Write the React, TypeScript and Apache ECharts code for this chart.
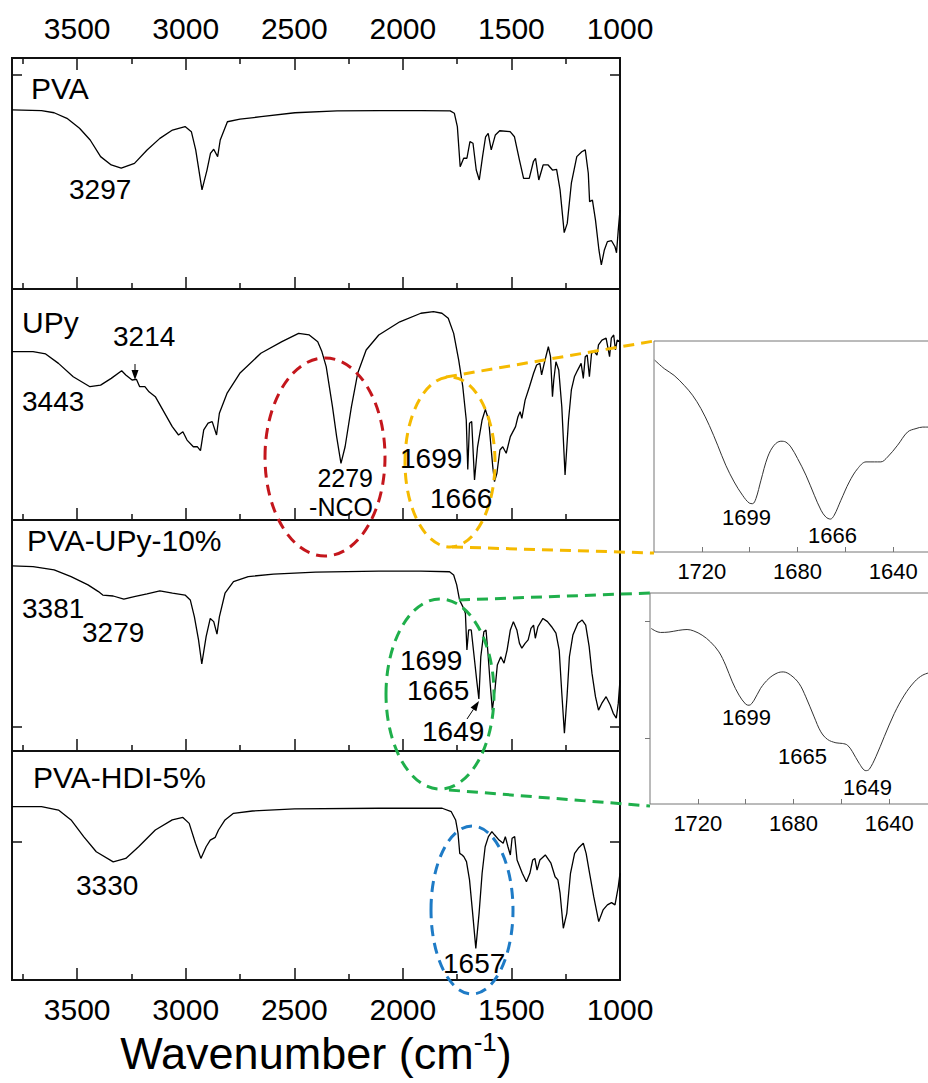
import React, { useEffect, useRef } from "react";
import * as echarts from "echarts";

// ---------- data (wavenumber cm-1, transmittance a.u.) ----------
const PVA: [number, number][] = [
  [3800, 77.5], [3664, 77.2], [3606, 76.3], [3547, 73.9], [3489, 69.6], [3440, 64.5], [3392, 57.3], [3343, 53.7],
  [3297, 52.3], [3236, 54.4], [3178, 60.2], [3119, 65.2], [3061, 68.8], [3003, 70.3], [2974, 68.1], [2954, 60.2],
  [2925, 42.9], [2902, 51.5], [2886, 58.7], [2871, 60.5], [2853, 57.3], [2841, 64.5], [2808, 72.4], [2750, 73.5],
  [2653, 74.6], [2497, 76.3], [2303, 77.1], [2108, 77.2], [1914, 77.2], [1782, 77.1], [1763, 76.1], [1749, 70.3],
  [1736, 52.9], [1720, 56.6], [1705, 56.6], [1691, 63.8], [1677, 63.1], [1662, 51.5], [1648, 47.2], [1633, 57.3],
  [1619, 65.9], [1607, 67.4], [1593, 60.2], [1574, 66.7], [1554, 68.5], [1506, 68.1], [1486, 65.9], [1463, 55.8],
  [1444, 47.9], [1418, 47.9], [1399, 55.1], [1389, 56.6], [1374, 47.2], [1354, 53.7], [1331, 53.7], [1311, 51.5],
  [1292, 51.8], [1276, 42.9], [1257, 24.4], [1243, 28.4], [1224, 45.8], [1199, 57.3], [1176, 59.4], [1160, 60.2],
  [1146, 50.1], [1140, 37.8], [1127, 38.5], [1113, 29.9], [1097, 16.9], [1086, 10.4], [1072, 16.9], [1058, 20.5],
  [1039, 20.9], [1023, 18.3], [1016, 15.7], [1008, 25.5], [1000, 34.2],
];
const UPY: [number, number][] = [
  [3800, 72.9], [3703, 72.9], [3645, 71.9], [3586, 67.8], [3518, 62.0], [3441, 57.7], [3392, 58.4], [3343, 61.3],
  [3295, 64.6], [3276, 62.8], [3247, 60.6], [3227, 60.9], [3212, 57.7], [3188, 57.7], [3169, 55.5], [3140, 53.4],
  [3101, 46.9], [3062, 40.4], [3033, 36.8], [3013, 38.2], [2994, 34.6], [2965, 31.7], [2946, 31.7], [2932, 30.0],
  [2917, 39.0], [2897, 41.9], [2878, 42.6], [2858, 36.8], [2845, 46.2], [2810, 54.8], [2751, 63.5], [2654, 72.2],
  [2557, 77.2], [2480, 80.8], [2431, 80.1], [2392, 77.2], [2373, 72.9], [2353, 66.4], [2324, 49.0], [2305, 36.1],
  [2285, 24.5], [2266, 31.7], [2237, 49.0], [2208, 63.5], [2169, 73.6], [2111, 80.1], [2014, 85.8], [1917, 89.5],
  [1859, 90.2], [1820, 89.5], [1791, 87.3], [1766, 80.8], [1743, 69.3], [1724, 57.7], [1708, 43.3], [1701, 21.9],
  [1693, 41.9], [1683, 42.6], [1670, 17.3], [1656, 31.7], [1635, 43.3], [1620, 47.9], [1605, 43.3], [1586, 23.1],
  [1578, 16.6], [1567, 20.2], [1553, 30.3], [1540, 31.7], [1524, 28.9], [1505, 36.1], [1481, 40.4], [1470, 44.7],
  [1460, 46.9], [1452, 44.0], [1437, 51.9], [1417, 57.7], [1398, 63.5], [1384, 67.1], [1369, 67.8], [1361, 62.8],
  [1349, 67.8], [1330, 75.0], [1320, 70.7], [1311, 53.4], [1305, 60.6], [1295, 68.5], [1282, 64.9], [1268, 49.0],
  [1253, 19.5], [1237, 43.3], [1224, 56.3], [1210, 62.0], [1195, 64.9], [1179, 67.8], [1169, 61.3], [1160, 70.7],
  [1151, 71.4], [1141, 62.0], [1131, 72.2], [1118, 72.9], [1106, 71.4], [1099, 75.8], [1083, 77.9], [1064, 78.7],
  [1048, 70.7], [1040, 78.7], [1029, 80.1], [1021, 73.6], [1013, 77.9], [1000, 77.2],
];
const PVA_UPY_10: [number, number][] = [
  [3800, 80.1], [3703, 79.8], [3606, 78.4], [3528, 75.5], [3450, 71.9], [3402, 69.0], [3382, 67.5], [3334, 67.1],
  [3285, 65.7], [3237, 66.8], [3178, 68.0], [3119, 69.3], [3061, 68.3], [3003, 67.5], [2979, 65.4], [2960, 58.1],
  [2941, 48.1], [2926, 37.7], [2906, 49.5], [2887, 57.4], [2871, 56.0], [2856, 50.6], [2845, 58.1], [2819, 68.3],
  [2780, 73.3], [2712, 75.5], [2596, 76.6], [2402, 77.4], [2111, 77.9], [1917, 77.9], [1785, 77.6], [1766, 76.2],
  [1752, 71.9], [1739, 65.4], [1724, 62.5], [1712, 59.6], [1705, 43.7], [1697, 52.4], [1685, 52.4], [1670, 39.4],
  [1660, 30.7], [1650, 22.5], [1641, 40.8], [1627, 51.6], [1617, 52.4], [1608, 42.3], [1598, 29.3], [1588, 17.7],
  [1576, 26.4], [1565, 37.2], [1549, 40.8], [1534, 38.0], [1520, 43.7], [1505, 52.4], [1491, 56.0], [1475, 52.4],
  [1463, 46.6], [1452, 44.5], [1437, 46.6], [1423, 48.1], [1410, 53.1], [1398, 54.5], [1390, 48.8], [1378, 53.8],
  [1355, 57.4], [1334, 56.0], [1315, 53.8], [1295, 51.0], [1280, 43.7], [1268, 25.0], [1256, 7.7], [1244, 23.5],
  [1233, 40.8], [1217, 50.2], [1194, 55.3], [1174, 56.7], [1158, 54.5], [1142, 45.2], [1129, 33.6], [1113, 23.5],
  [1099, 17.7], [1084, 20.6], [1064, 23.5], [1045, 19.9], [1031, 16.3], [1017, 14.2], [1008, 20.6], [1000, 30.7],
];
const PVA_HDI_5: [number, number][] = [
  [3800, 75.7], [3664, 75.7], [3586, 74.2], [3528, 69.9], [3470, 62.6], [3412, 56.0], [3334, 51.6], [3276, 53.1],
  [3217, 58.2], [3140, 65.5], [3062, 69.9], [3013, 71.0], [2984, 68.4], [2955, 59.7], [2930, 53.1], [2906, 58.2],
  [2887, 61.1], [2864, 62.3], [2849, 65.5], [2819, 69.9], [2780, 72.8], [2693, 73.8], [2499, 74.7], [2111, 75.0],
  [1819, 75.0], [1777, 73.5], [1757, 69.9], [1746, 64.1], [1738, 55.3], [1727, 54.6], [1719, 53.8], [1707, 51.7],
  [1693, 43.7], [1680, 30.6], [1664, 13.8], [1649, 29.1], [1635, 46.6], [1621, 58.2], [1606, 62.6], [1590, 64.8],
  [1577, 63.3], [1557, 61.1], [1538, 59.7], [1528, 62.6], [1516, 58.2], [1505, 54.6], [1497, 61.9], [1485, 62.6],
  [1474, 52.4], [1450, 46.6], [1431, 42.9], [1415, 46.6], [1402, 52.4], [1392, 53.1], [1382, 48.0], [1369, 52.4],
  [1344, 54.6], [1318, 51.0], [1299, 45.1], [1286, 43.7], [1276, 37.9], [1261, 22.6], [1245, 29.1], [1228, 46.6],
  [1209, 55.3], [1189, 57.9], [1169, 59.7], [1156, 55.3], [1140, 46.6], [1121, 36.4], [1098, 25.5], [1078, 30.6],
  [1058, 32.8], [1039, 33.8], [1023, 32.8], [1008, 40.7], [1000, 46.6],
];
const INSET_UPY: [number, number][] = [
  [1739.7, 90.9], [1735.7, 86.9], [1731.6, 83.7], [1727.4, 79.0], [1723.9, 74.3], [1720.4, 68.0], [1716.9, 60.0],
  [1713.4, 50.6], [1710, 41.1], [1706.5, 33.2], [1703, 26.9], [1700.2, 23.2], [1698.8, 22.9], [1697.4, 25.3],
  [1695.3, 34.0], [1692.5, 45.0], [1689.8, 50.6], [1687, 52.5], [1684.9, 52.1], [1682.8, 49.8], [1680, 44.3],
  [1676.5, 36.4], [1673, 26.9], [1670.2, 19.8], [1668.2, 16.6], [1666.3, 15.6], [1664.7, 17.4], [1661.9, 24.5],
  [1658.4, 33.2], [1654.9, 39.5], [1651.4, 42.7], [1647.9, 42.7], [1645.2, 42.7], [1642.4, 45.0], [1638.2, 50.6],
  [1634, 56.9], [1630.5, 58.5], [1627.7, 59.2], [1624, 59.2],
];
const INSET_PVA_UPY: [number, number][] = [
  [1739.5, 83.2], [1737.7, 82.0], [1735.6, 81.3], [1732.1, 81.5], [1728, 82.3], [1724.5, 82.7], [1721.7, 82.0],
  [1718.2, 80.0], [1714.7, 76.8], [1711.2, 72.1], [1708.4, 65.8], [1705.6, 57.9], [1702.8, 51.6], [1700, 47.3],
  [1698.6, 46.8], [1696.5, 49.2], [1693.8, 54.8], [1690.3, 59.5], [1686.8, 62.1], [1684.3, 62.6], [1681.2, 61.1],
  [1677.7, 57.1], [1674.9, 50.8], [1671.4, 41.3], [1668.6, 34.2], [1665.8, 30.6], [1662.3, 29.0], [1659.6, 28.7],
  [1657.5, 27.9], [1655.4, 24.8], [1652.6, 19.3], [1649.8, 15.8], [1648.4, 16.4], [1645.6, 22.4], [1642.1, 31.9],
  [1637.9, 42.9], [1633.7, 51.6], [1629.5, 57.9], [1626, 61.1], [1622, 62.6],
];

const MAJOR_TICKS = [1000, 1500, 2000, 2500, 3000, 3500];
const MINOR_TICKS = [1250, 1750, 2250, 2750, 3250, 3750];
const INSET_TICKS = [1620, 1640, 1660, 1680, 1700, 1720];
const INSET_LABELS = [1640, 1680, 1720];
const PANEL_NAMES = ["PVA", "UPy", "PVA-UPy-10%", "PVA-HDI-5%"];
const PANEL_Y_TICKS = [[92.6], [], [10.5], [60.4]];
const INSET2_Y_TICKS = [31.2, 86.7];

const FONT = '"Liberation Sans", Arial, Helvetica, sans-serif';

export default function App() {
  const ref = useRef<HTMLDivElement>(null);
  useEffect(() => {
    if (!ref.current) return;
    const chart = echarts.init(ref.current, undefined, { renderer: "svg" });

    const panelData = [PVA, UPY, PVA_UPY_10, PVA_HDI_5];
    const tops = [58, 289, 520, 751];
    const heights = [231, 231, 231, 229];
    const grids: any[] = [];
    const xAxes: any[] = [];
    const yAxes: any[] = [];
    const series: any[] = [];
    const fmt = (v: number) => String(v);

    const mainX = (g: number, pos: string, ticks: number[], len: number, labels: boolean, margin: number) => ({
      type: "value", gridIndex: g, position: pos, min: 1000, max: 3800, inverse: true,
      axisLine: { show: false },
      axisTick: { show: true, inside: true, length: len, customValues: ticks, lineStyle: { color: "#111", width: 1.5 } },
      axisLabel: labels
        ? { show: true, customValues: MAJOR_TICKS, formatter: fmt, fontSize: 30, lineHeight: 30, fontFamily: FONT, color: "#000", margin }
        : { show: false },
      splitLine: { show: false },
    });
    const mainY = (g: number, pos: string, ticks: number[]) => ({
      type: "value", gridIndex: g, position: pos, min: 0, max: 100,
      axisLine: { show: false },
      axisTick: ticks.length
        ? { show: true, inside: true, length: 10, customValues: ticks, lineStyle: { color: "#111", width: 1.5 } }
        : { show: false },
      axisLabel: { show: false },
      splitLine: { show: false },
    });

    panelData.forEach((data, i) => {
      grids.push({
        left: 12, top: tops[i], width: 608, height: heights[i], show: true, borderColor: "#111", borderWidth: 2,
        outerBoundsMode: "none",
      });
      const xi = xAxes.length;
      xAxes.push(mainX(i, "bottom", MAJOR_TICKS, 12, i === 3, 14));
      xAxes.push(mainX(i, "bottom", MINOR_TICKS, 6, false, 14));
      if (i === 0) {
        xAxes.push(mainX(i, "top", MAJOR_TICKS, 12, true, 15));
        xAxes.push(mainX(i, "top", MINOR_TICKS, 6, false, 15));
      }
      const yi = yAxes.length;
      yAxes.push(mainY(i, "left", PANEL_Y_TICKS[i]));
      yAxes.push(mainY(i, "right", PANEL_Y_TICKS[i]));
      series.push({
        type: "line", name: PANEL_NAMES[i], xAxisIndex: xi, yAxisIndex: yi, data, showSymbol: false,
        lineStyle: { color: "#000", width: 1.3 }, z: 3,
      });
    });

    // insets (they run past the right edge of the page, as in the reference)
    const insets = [
      { data: INSET_UPY, left: 654, top: 341, yTicks: [] as number[] },
      { data: INSET_PVA_UPY, left: 650, top: 593, yTicks: INSET2_Y_TICKS },
    ];
    insets.forEach((ins) => {
      const g = grids.length;
      grids.push({
        left: ins.left, top: ins.top, width: 335, height: 211, show: true, borderColor: "#777", borderWidth: 1,
        outerBoundsMode: "none",
      });
      const xi = xAxes.length;
      xAxes.push({
        type: "value", gridIndex: g, position: "bottom", min: 1600, max: 1740, inverse: true,
        axisLine: { show: false },
        axisTick: { show: true, inside: true, length: 5, customValues: INSET_TICKS, lineStyle: { color: "#777", width: 1 } },
        axisLabel: { show: true, customValues: INSET_LABELS, formatter: fmt, fontSize: 22, lineHeight: 22, fontFamily: FONT, color: "#000", margin: 8 },
        splitLine: { show: false },
      });
      const yi = yAxes.length;
      yAxes.push({
        type: "value", gridIndex: g, position: "left", min: 0, max: 100,
        axisLine: { show: false },
        axisTick: ins.yTicks.length
          ? { show: true, inside: false, length: 5, customValues: ins.yTicks, lineStyle: { color: "#777", width: 1 } }
          : { show: false },
        axisLabel: { show: false },
        splitLine: { show: false },
      });
      series.push({
        type: "line", xAxisIndex: xi, yAxisIndex: yi, data: ins.data, showSymbol: false, smooth: 0.35,
        lineStyle: { color: "#333", width: 1 }, z: 3,
      });
    });

    const txt = (text: string, x: number, y: number, size: number, align = "left", lh?: number) => ({
      type: "text", x, y, z: 100,
      style: {
        text, fontSize: size, fontFamily: FONT, fill: "#000", textAlign: align, textVerticalAlign: "middle",
        ...(lh ? { lineHeight: lh } : {}),
      },
    });
    const dash = (color: string) => ({ fill: "none", stroke: color, lineWidth: 3, lineDash: [11, 7] });
    const ell = (cx: number, cy: number, rx: number, ry: number, color: string) => ({
      type: "ellipse", z: 90, shape: { cx, cy, rx, ry }, style: dash(color),
    });
    const dline = (x1: number, y1: number, x2: number, y2: number, color: string) => ({
      type: "line", z: 90, shape: { x1, y1, x2, y2 }, style: dash(color),
    });
    const arrow = (x1: number, y1: number, x2: number, y2: number) => {
      const dx = x2 - x1, dy = y2 - y1, L = Math.hypot(dx, dy);
      const ux = dx / L, uy = dy / L, hl = 10, hw = 3.5;
      const bx = x2 - ux * hl, by = y2 - uy * hl;
      return [
        { type: "line", z: 95, shape: { x1, y1, x2: bx, y2: by }, style: { stroke: "#000", lineWidth: 1 } },
        {
          type: "polygon", z: 95,
          shape: { points: [[x2, y2], [bx - uy * hw, by + ux * hw], [bx + uy * hw, by - ux * hw]] },
          style: { fill: "#000" },
        },
      ];
    };

    const RED = "#C4161C", YEL = "#F5BA00", GRN = "#1FAF4B", BLU = "#1E7BC6";
    const graphic: any[] = [
      txt(PANEL_NAMES[0], 31, 88, 30),
      txt(PANEL_NAMES[1], 22, 322, 30),
      txt(PANEL_NAMES[2], 27, 540, 30),
      txt(PANEL_NAMES[3], 33, 777, 30),
      txt("3297", 69, 189, 28),
      txt("3214", 113, 336, 28),
      txt("3443", 22, 401, 28),
      txt("2279", 373, 478, 25, "right"),
      txt("-NCO", 373, 507, 25, "right"),
      txt("1699", 400, 458, 28),
      txt("1666", 430, 498, 28),
      txt("3381", 22, 608, 28),
      txt("3279", 82, 632, 28),
      txt("1699", 400, 660, 28),
      txt("1665", 407, 690, 28),
      txt("1649", 422, 731, 28),
      txt("3330", 76, 885, 28),
      txt("1657", 443, 963, 28),
      txt("1699", 722, 517, 22),
      txt("1666", 808, 535, 22),
      txt("1699", 722, 717, 22),
      txt("1665", 778, 756, 22),
      txt("1649", 843, 787, 22),
      ...arrow(135, 364, 135, 380),
      ...arrow(467, 719, 479, 701),
      ell(325, 457, 60, 99, RED),
      ell(450, 462, 45, 85, YEL),
      ell(440, 694, 54, 95, GRN),
      ell(472, 910, 41, 84, BLU),
      dline(446, 377, 654, 341, YEL),
      dline(452, 547, 654, 553, YEL),
      dline(459, 600, 650, 593, GRN),
      dline(449, 790, 650, 806, GRN),
      {
        type: "text", x: 316, y: 1053, z: 100,
        style: {
          text: "{a|Wavenumber (cm}{s|-1}{a|)}",
          textAlign: "center", textVerticalAlign: "middle",
          rich: {
            a: { fontSize: 45, fontFamily: FONT, fill: "#000", lineHeight: 48 },
            s: { fontSize: 26, fontFamily: FONT, fill: "#000", lineHeight: 22, verticalAlign: "top" },
          },
        },
      },
    ];

    chart.setOption({
      animation: false,
      backgroundColor: "#fff",
      grid: grids,
      xAxis: xAxes,
      yAxis: yAxes,
      series,
      graphic,
    });
    return () => chart.dispose();
  }, []);
  return <div ref={ref} style={{ position: "absolute", left: 0, top: 0, width: 928, height: 1083 }} />;
}
